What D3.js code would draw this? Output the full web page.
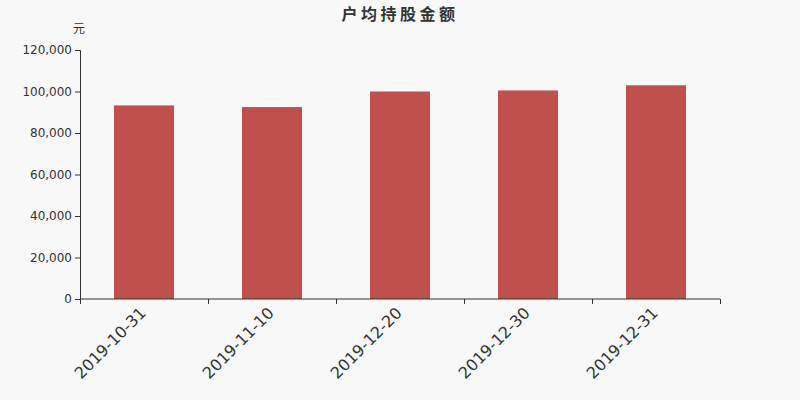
<!DOCTYPE html>
<html>
<head>
<meta charset="utf-8">
<script src="https://cdn.jsdelivr.net/npm/d3@7"></script>
<style>
  body { margin: 0; background: #f8f8f8; }
  svg { display: block; font-family: "DejaVu Sans", "Noto Sans CJK SC", sans-serif; }
</style>
</head>
<body>
<svg></svg>
<script>
var categories = ["2019-10-31", "2019-11-10", "2019-12-20", "2019-12-30", "2019-12-31"];
var values = [93300, 92500, 100000, 100500, 103000];
var yTicks = [0, 20000, 40000, 60000, 80000, 100000, 120000];

var width = 800;
var height = 400;
var margin = { top: 50, right: 80, bottom: 101, left: 80 };

var svg = d3.select("svg")
            .attr("width", width)
            .attr("height", height);

svg.append("rect")
   .attr("width", width)
   .attr("height", height)
   .attr("fill", "#f8f8f8");

var x = d3.scaleBand()
          .domain(categories)
          .range([margin.left, width - margin.right]);

var y = d3.scaleLinear()
          .domain([0, 120000])
          .range([height - margin.bottom, margin.top]);

// bars
svg.append("g")
   .selectAll("rect")
   .data(values)
   .enter()
   .append("rect")
   .attr("x", (d, i) => x(categories[i]) + x.bandwidth() / 2 - 30)
   .attr("y", (d) => y(d))
   .attr("width", 60)
   .attr("height", (d) => y(0) - y(d))
   .attr("fill", "#c0504d");

// y axis
var yAxis = svg.append("g")
   .attr("transform", "translate(" + margin.left + ",0)")
   .call(d3.axisLeft(y).tickValues(yTicks).tickSize(5).tickFormat(d3.format(",")));
yAxis.select(".domain").attr("stroke", "#333");
yAxis.selectAll(".tick line").attr("stroke", "#333");
yAxis.selectAll("text").attr("fill", "#333").attr("font-size", 12).attr("font-family", "DejaVu Sans");

// x axis, ticks on band edges
var xAxis = svg.append("g")
   .attr("transform", "translate(0," + y(0) + ")");
xAxis.append("line")
   .attr("x1", margin.left)
   .attr("x2", width - margin.right)
   .attr("stroke", "#333");
var edges = categories.map((c) => x(c)).concat([x(categories[categories.length - 1]) + x.bandwidth()]);
xAxis.selectAll(".edge")
   .data(edges)
   .enter()
   .append("line")
   .attr("x1", (d) => d + 0.5)
   .attr("x2", (d) => d + 0.5)
   .attr("y1", 0)
   .attr("y2", 5)
   .attr("stroke", "#333");
xAxis.selectAll(".lbl")
   .data(categories)
   .enter()
   .append("text")
   .attr("transform", (d) => "translate(" + (x(d) + x.bandwidth() / 2 + 3) + ",15) rotate(-45)")
   .attr("text-anchor", "end")
   .attr("font-size", 16)
   .attr("fill", "#333")
   .text((d) => d);

// unit label
svg.append("text")
   .attr("x", 79)
   .attr("y", 33)
   .attr("text-anchor", "middle")
   .attr("font-size", 12)
   .attr("font-family", "Noto Sans CJK SC")
   .attr("fill", "#333")
   .text("元");

// title
svg.append("text")
   .attr("x", width / 2)
   .attr("y", 20)
   .attr("text-anchor", "middle")
   .attr("font-size", 16)
   .attr("letter-spacing", 3.5)
   .attr("font-weight", "bold")
   .attr("font-family", "Noto Sans CJK SC")
   .attr("fill", "#333")
   .text("户均持股金额");
</script>
</body>
</html>
